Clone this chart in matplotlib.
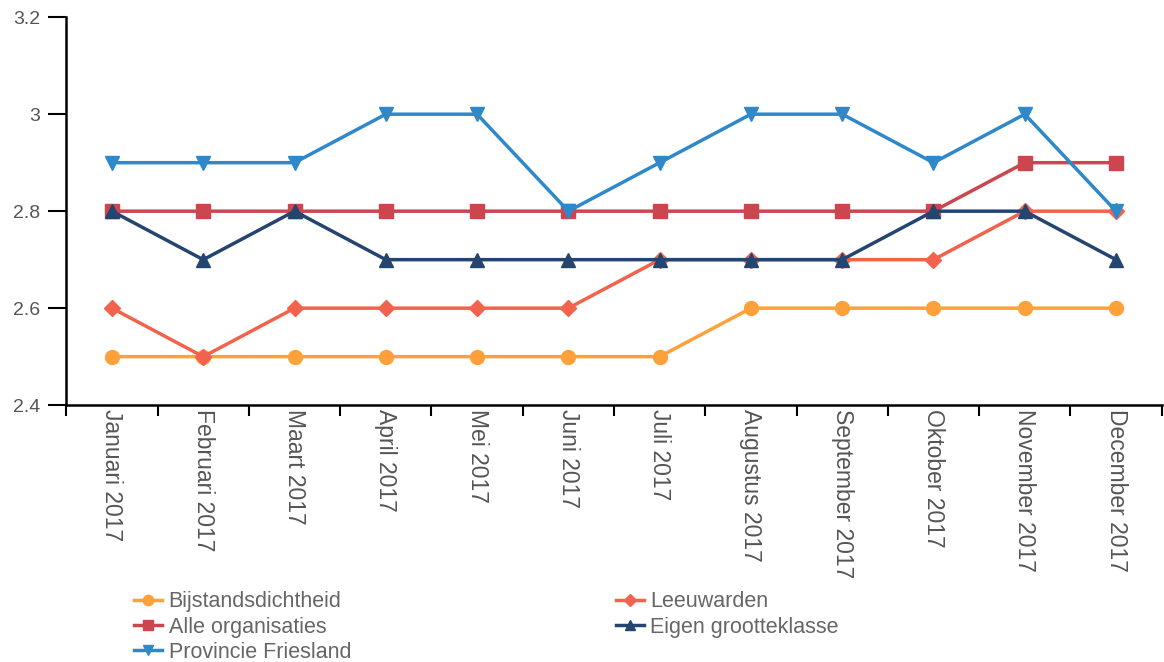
import matplotlib
matplotlib.use("Agg")
import matplotlib.pyplot as plt
import numpy as np

plt.rcParams["font.family"] = ["Liberation Sans", "DejaVu Sans"]

months = ["Januari 2017", "Februari 2017", "Maart 2017", "April 2017", "Mei 2017",
          "Juni 2017", "Juli 2017", "Augustus 2017", "September 2017",
          "Oktober 2017", "November 2017", "December 2017"]

bijstand = [2.5, 2.5, 2.5, 2.5, 2.5, 2.5, 2.5, 2.6, 2.6, 2.6, 2.6, 2.6]
leeuwarden = [2.6, 2.5, 2.6, 2.6, 2.6, 2.6, 2.7, 2.7, 2.7, 2.7, 2.8, 2.8]
alle_org = [2.8, 2.8, 2.8, 2.8, 2.8, 2.8, 2.8, 2.8, 2.8, 2.8, 2.9, 2.9]
eigen = [2.8, 2.7, 2.8, 2.7, 2.7, 2.7, 2.7, 2.7, 2.7, 2.8, 2.8, 2.7]
friesland = [2.9, 2.9, 2.9, 3.0, 3.0, 2.8, 2.9, 3.0, 3.0, 2.9, 3.0, 2.8]

series = [
    ("Bijstandsdichtheid", bijstand, "#FFA13A", "o"),
    ("Leeuwarden", leeuwarden, "#F2624C", "D"),
    ("Alle organisaties", alle_org, "#CC4650", "s"),
    ("Eigen grootteklasse", eigen, "#24456F", "^"),
    ("Provincie Friesland", friesland, "#2E88C9", "v"),
]

fig = plt.figure(figsize=(11.64, 6.62), dpi=100)
ax = fig.add_axes([0.057, 0.388, 0.941, 0.586])

x = np.arange(len(months))
for name, vals, col, mk in series:
    ms = 8 if mk == "D" else 10
    ax.plot(x, vals, color=col, marker=mk, markersize=ms, linewidth=2.5, label=name)

ax.set_ylim(2.4, 3.2)
ax.set_yticks([2.4, 2.6, 2.8, 3.0, 3.2])
ax.set_yticklabels(["2.4", "2.6", "2.8", "3", "3.2"])
ax.set_xlim(-0.5, 11.5)
ax.set_xticks(x)
ax.set_xticklabels(months, rotation=270, fontsize=16.5, color="#555555")
ax.set_xticks(np.arange(-0.5, 12, 1), minor=True)
ax.tick_params(axis="x", which="major", length=0, pad=3)
ax.tick_params(axis="x", which="minor", length=8, width=1.5, direction="out")
ax.tick_params(axis="y", length=13, width=1.5, labelsize=14, labelcolor="#555555", pad=6)

for s in ["top", "right"]:
    ax.spines[s].set_visible(False)
for s in ["left", "bottom"]:
    ax.spines[s].set_linewidth(1.8)
    ax.spines[s].set_color("black")

handles, labels = ax.get_legend_handles_labels()
order = [0, 2, 4, 1, 3]
fig.legend([handles[i] for i in order], [labels[i] for i in order],
           loc="upper left", bbox_to_anchor=(0.106, 0.123), ncol=2, frameon=False,
           fontsize=15.5, labelcolor="#666666", handlelength=1.3, handletextpad=0.3,
           columnspacing=12.3, labelspacing=0.2, borderpad=0, markerscale=0.75)

fig.savefig("out.png", dpi=100)
